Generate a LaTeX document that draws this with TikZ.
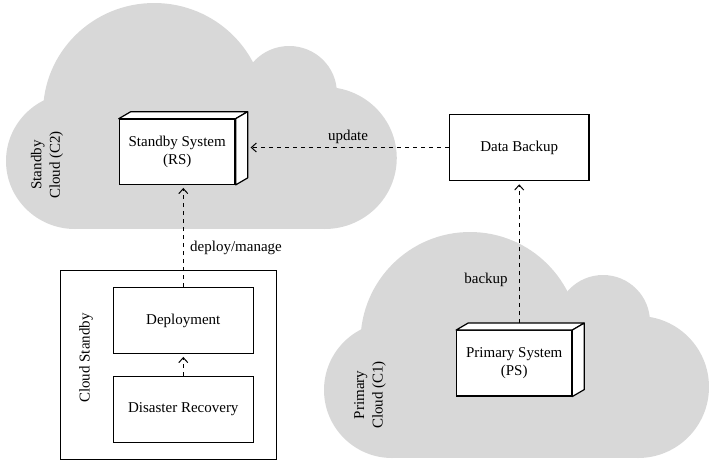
\documentclass[tikz,border=0pt]{standalone}
\usepackage{fontspec}
\setmainfont{Liberation Serif}
\usetikzlibrary{arrows.meta}
\definecolor{cloudgray}{RGB}{216,216,216}
\tikzset{
  cloudpic/.pic={
    \fill[cloudgray] (146,110.5) circle[radius=109.5pt];
    \fill[cloudgray] (279,91) circle[radius=47pt];
    \fill[cloudgray] (314,156) circle[radius=71pt];
    \fill[cloudgray] (68,159) circle[radius=68pt];
    \fill[cloudgray] (68,109) rectangle (314,227);
  },
  txt/.style={font=\fontsize{15}{18.5}\selectfont, align=center, inner sep=0pt},
  box/.style={txt, draw, fill=white, line width=1.2pt},
  face/.style={draw, fill=white, line width=1.2pt, line join=round},
  conn/.style={draw, dash pattern=on 4pt off 4pt, line width=1pt,
    -{Straight Barb[length=5pt,width=9pt,line width=1pt]}, shorten >=3pt},
}
\begin{document}
\begin{tikzpicture}[x=1pt,y=-1pt]
\useasboundingbox (0,0) rectangle (709,461);
% clouds
\pic[xscale=1.015] at (6,2) {cloudpic};
\pic at (324,231) {cloudpic};
\node[txt, rotate=90] (c2lbl) at (47,165) {Standby\\Cloud (C2)};
\node[txt, rotate=90] (c1lbl) at (370,395) {Primary\\Cloud (C1)};

% standby system (3D)
\node[box, minimum width=115.7pt, minimum height=65pt] (ss) at (177.2,151.8) {Standby System\\(RS)};
\draw[face] (ss.north west) -- ++(12pt,7pt) -- ([shift={(12pt,7pt)}]ss.north east) -- (ss.north east) -- cycle;
\draw[face] (ss.north east) -- ++(12pt,7pt) -- ([shift={(12pt,7pt)}]ss.south east) -- (ss.south east) -- cycle;
\coordinate (ssE) at ([xshift=12pt]ss.east);

% data backup
\node[box, minimum width=139.7pt, minimum height=66.4pt] (db) at (519.2,147.5) {Data Backup};

% primary system (3D)
\node[box, minimum width=115pt, minimum height=65.3pt] (ps) at (514.2,363.3) {Primary System\\(PS)};
\draw[face] (ps.north west) -- ++(12pt,7pt) -- ([shift={(12pt,7pt)}]ps.north east) -- (ps.north east) -- cycle;
\draw[face] (ps.north east) -- ++(12pt,7pt) -- ([shift={(12pt,7pt)}]ps.south east) -- (ps.south east) -- cycle;
\coordinate (psT) at ([yshift=7pt]ps.north);

% cloud standby package
\node[box, fill=none, minimum width=216pt, minimum height=188.6pt] (cs) at (168.7,365) {};
\node[txt, rotate=90] (cslbl) at (86,358) {Cloud Standby};
\node[box, minimum width=140pt, minimum height=65.6pt] (dep) at (183.3,320.5) {Deployment};
\node[box, minimum width=140pt, minimum height=65.6pt] (dr) at (183.3,409.5) {Disaster Recovery};

% connectors
\draw[conn] (db.west) -- (db.west -| ssE);
\draw[conn] (dep.north) -- (dep.north |- ss.south);
\draw[conn] (psT -| db.south) -- (db.south);
\draw[conn] (dr.north) -- (dep.south);

% labels
\node[txt] (lupd) at (348,137) {update};
\node[txt, anchor=west] (ldep) at (190,248) {deploy/manage};
\node[txt] (lbak) at (486,280) {backup};
\end{tikzpicture}
\end{document}
